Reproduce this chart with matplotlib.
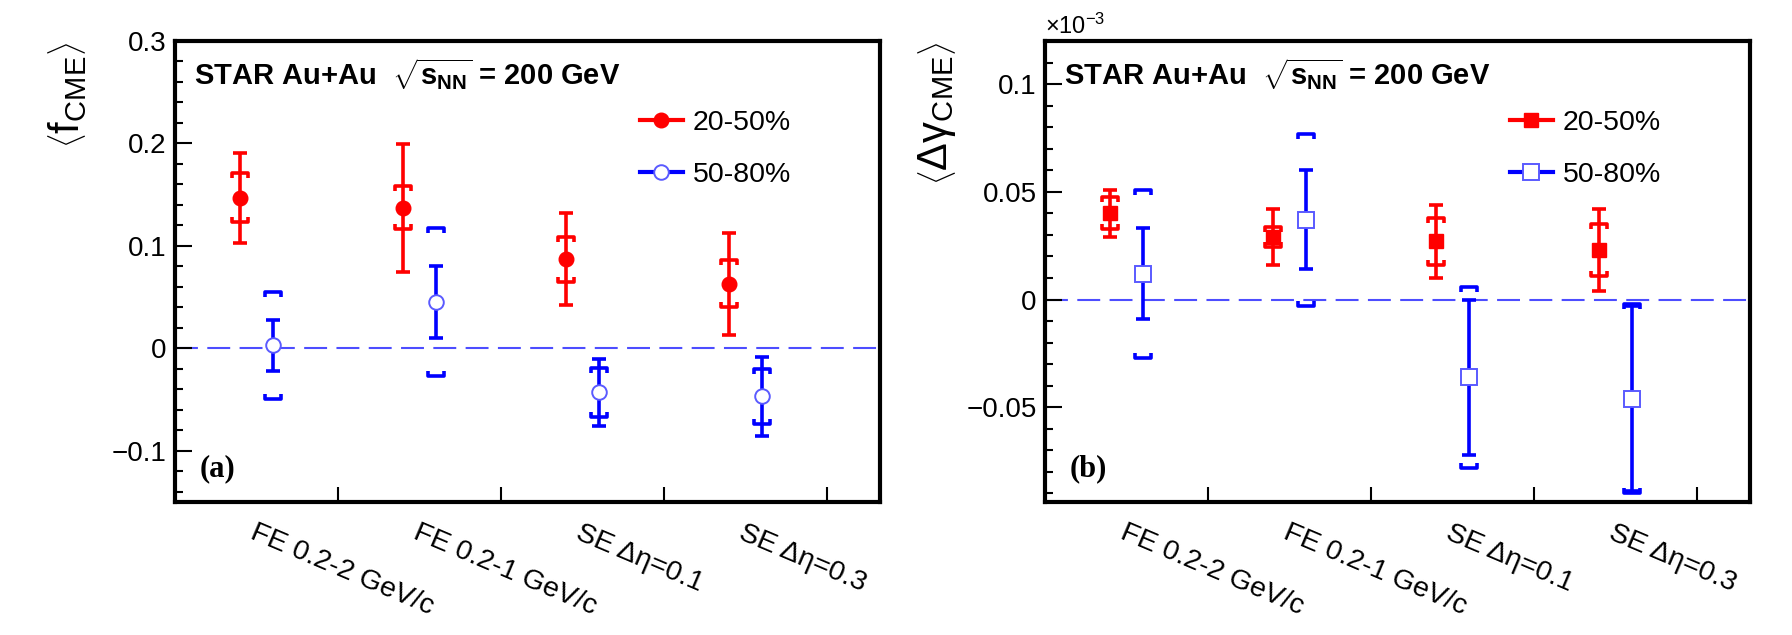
import numpy as np
import matplotlib
matplotlib.use('Agg')
import matplotlib.pyplot as plt
from matplotlib.lines import Line2D
from matplotlib.path import Path
from matplotlib.ticker import MultipleLocator, FixedLocator, FuncFormatter

plt.rcParams['font.family'] = ['Liberation Sans', 'DejaVu Sans']
plt.rcParams['mathtext.fontset'] = 'custom'
plt.rcParams['mathtext.rm'] = 'Liberation Sans'
plt.rcParams['mathtext.it'] = 'Liberation Sans:italic'
plt.rcParams['mathtext.bf'] = 'Liberation Sans:bold'
plt.rcParams['mathtext.sf'] = 'Liberation Sans'

# ---------------- data ----------------
categories = ['FE 0.2-2 GeV/c', 'FE 0.2-1 GeV/c', 'SE Δη=0.1', 'SE Δη=0.3']
centralities = ['20-50%', '50-80%']

# panel (a): <f_CME>
fcme_2050 = [0.147, 0.137, 0.087, 0.063]
fcme_2050_stat = [0.044, 0.062, 0.045, 0.050]
fcme_2050_sys = [0.024, 0.021, 0.022, 0.023]
fcme_5080 = [0.003, 0.045, -0.043, -0.047]
fcme_5080_stat = [0.025, 0.035, 0.033, 0.039]
fcme_5080_sys = [0.052, 0.072, 0.024, 0.027]

# panel (b): <Delta gamma_CME>, in units of 1e-3
dg_2050 = [0.040, 0.029, 0.027, 0.023]
dg_2050_stat = [0.011, 0.013, 0.017, 0.019]
dg_2050_sys = [0.0074, 0.0048, 0.011, 0.012]
dg_5080 = [0.012, 0.037, -0.036, -0.046]
dg_5080_stat = [0.021, 0.023, 0.036, 0.043]
dg_5080_sys = [0.039, 0.040, 0.042, 0.044]

RED = '#ff0000'
BLUE = '#0000ff'
OPEN_EDGE = '#5a5aff'

top_bracket = Path([(-1, -0.6), (-1, 0), (1, 0), (1, -0.6)],
                   [Path.MOVETO, Path.LINETO, Path.LINETO, Path.LINETO])
bot_bracket = Path([(-1, 0.6), (-1, 0), (1, 0), (1, 0.6)],
                   [Path.MOVETO, Path.LINETO, Path.LINETO, Path.LINETO])

W, H = 1792.0, 635.0
ax_w = 705.0
fig = plt.figure(figsize=(17.92, 6.35), dpi=100)
axA = fig.add_axes([175 / W, 1 - 502 / H, ax_w / W, 461 / H])
axB = fig.add_axes([1045 / W, 1 - 502 / H, ax_w / W, 461 / H])
XMAX = ax_w / 163.0

centers = np.arange(len(categories)) + 0.5


def draw_series(ax, xs, y, stat, sys, color, marker, ms, open_marker):
    y = np.asarray(y); stat = np.asarray(stat); sys = np.asarray(sys)
    ax.errorbar(xs, y, yerr=stat, fmt='none', ecolor=color, elinewidth=2.6,
                capsize=5, capthick=2.6, zorder=3)
    ax.plot(xs, y + sys, ls='none', marker=top_bracket, ms=11.5, mec=color,
            mfc='none', mew=2.6, zorder=4)
    ax.plot(xs, y - sys, ls='none', marker=bot_bracket, ms=11.5, mec=color,
            mfc='none', mew=2.6, zorder=4)
    if open_marker:
        ax.plot(xs, y, ls='none', marker=marker, ms=ms, mfc='white',
                mec=OPEN_EDGE, mew=1.4, zorder=5)
    else:
        ax.plot(xs, y, ls='none', marker=marker, ms=ms, color=color, zorder=5)


def fmt(v, pos):
    s = f'{v:g}'
    if abs(v) < 1e-12:
        s = '0'
    return s.replace('-', '\u2212')


def style_axes(ax, ylim, major, minor):
    ax.set_xlim(0, XMAX)
    ax.set_ylim(*ylim)
    ax.axhline(0, color='#4d4dff', lw=1.5, ls=(0, (11, 4.5)), zorder=1)
    ax.xaxis.set_major_locator(FixedLocator([1, 2, 3, 4]))
    ax.xaxis.set_major_formatter(FuncFormatter(lambda v, p: ''))
    ax.set_xticks(centers, categories, minor=True)
    ax.tick_params(axis='x', which='minor', length=0, pad=13, labelsize=20.5)
    for lab in ax.get_xticklabels(minor=True):
        lab.set_rotation(-23)
        lab.set_rotation_mode('anchor')
        lab.set_ha('left')
        lab.set_va('top')
    ax.tick_params(axis='x', which='major', direction='in', length=11, width=1.5,
                   top=False)
    ax.yaxis.set_major_locator(MultipleLocator(major))
    ax.yaxis.set_minor_locator(MultipleLocator(minor))
    ax.yaxis.set_major_formatter(FuncFormatter(fmt))
    ax.tick_params(axis='y', which='major', direction='in', length=12, width=1.5,
                   labelsize=20, right=False, pad=6)
    ax.tick_params(axis='y', which='minor', direction='in', length=6, width=1.5,
                   right=False)
    for sp in ax.spines.values():
        sp.set_linewidth(3)
        sp.set_color('black')


# ---- panel (a)
draw_series(axA, centers - 0.1, fcme_2050, fcme_2050_stat, fcme_2050_sys, RED, 'o', 10.5, False)
draw_series(axA, centers + 0.1, fcme_5080, fcme_5080_stat, fcme_5080_sys, BLUE, 'o', 10.5, True)
style_axes(axA, (-0.15, 0.3), 0.1, 0.02)
axA.set_ylabel(r'$\left\langle\mathrm{f}_{\mathrm{CME}}\right\rangle$', fontsize=30, loc='top')
axA.yaxis.set_label_coords(-87 / ax_w, 1.0)

# ---- panel (b)
draw_series(axB, centers - 0.1, dg_2050, dg_2050_stat, dg_2050_sys, RED, 's', 9.5, False)
draw_series(axB, centers + 0.1, dg_5080, dg_5080_stat, dg_5080_sys, BLUE, 's', 11, True)
style_axes(axB, (-0.094, 0.12), 0.05, 0.01)
axB.set_ylabel(r'$\left\langle\Delta\mathrm{\gamma}_{\mathrm{CME}}\right\rangle$', fontsize=30, loc='top')
axB.yaxis.set_label_coords(-87 / ax_w, 1.0)
axB.text(0.0, 1.005, r'$\times10^{-3}$', transform=axB.transAxes, ha='left',
         va='bottom', fontsize=17)

for ax, tag, mk, ms_r, ms_b in [(axA, '(a)', 'o', 10.5, 10.5), (axB, '(b)', 's', 9.5, 11)]:
    ax.text(19 / ax_w, 0.928, r'STAR Au+Au  $\sqrt{\mathbf{s}_{\mathbf{NN}}}$ = 200 GeV',
            transform=ax.transAxes, fontsize=21, fontweight='bold', va='center', ha='left')
    ax.text(25 / ax_w, 0.04, tag, transform=ax.transAxes, fontsize=22, fontweight='bold',
            family=['Liberation Serif', 'DejaVu Serif'], va='bottom', ha='left')
    handles = [Line2D([], [], color=RED, lw=3, marker=mk, ms=ms_r),
               Line2D([], [], color=BLUE, lw=3, marker=mk, ms=ms_b, mfc='white',
                      mec=OPEN_EDGE, mew=1.4)]
    ax.legend(handles, centralities, loc='upper left', bbox_to_anchor=(465 / ax_w, 0.85),
              frameon=False, fontsize=20.5, handlelength=1.5, handletextpad=0.35,
              labelspacing=0.9, borderpad=0, borderaxespad=0)

fig.savefig('out.png', dpi=100)
